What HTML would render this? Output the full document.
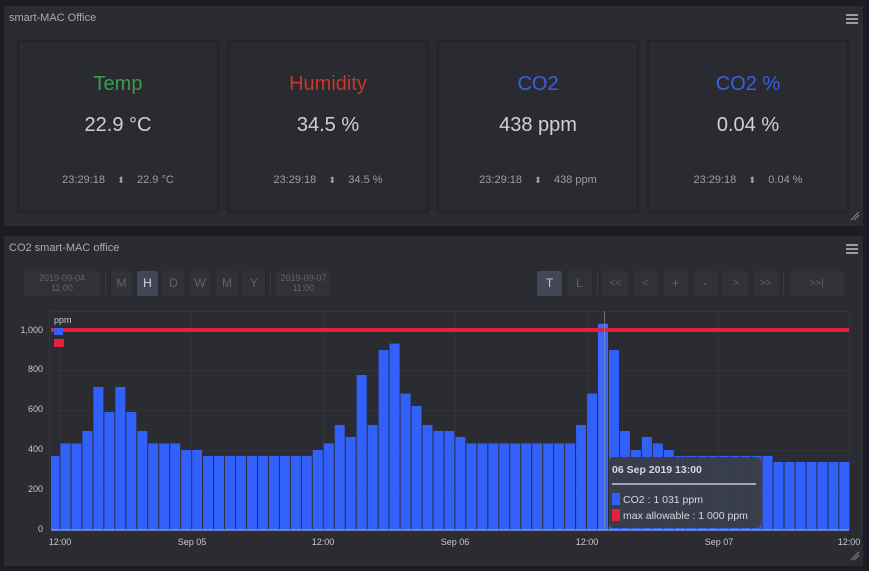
<!DOCTYPE html>
<html><head><meta charset="utf-8"><style>
body{margin:0;width:869px;height:571px;background:#1c1d24;font-family:"Liberation Sans",sans-serif;overflow:hidden;position:relative}
.panel{position:absolute;background:#2b2c31;left:4px;width:859px}
.ptitle{position:absolute;left:5px;top:6px;font-size:11px;color:#a9abb0}
.ham{position:absolute;right:5px;width:12px;height:10px;border-top:2px solid #9a9ca2;border-bottom:2px solid #9a9ca2;box-sizing:border-box}
.ham:after{content:"";position:absolute;left:0;right:0;top:2px;height:2px;background:#9a9ca2}
.card{position:absolute;top:41px;width:200px;height:171px;background:#2a2b30;box-shadow:0 0 2px #18191e;border:1px solid #222328;box-sizing:border-box;text-align:center}
.card .t{position:absolute;top:31px;width:100%;font-size:20px}
.card .v{position:absolute;top:72px;width:100%;font-size:20px;color:#d0d1d4}
.card .f{position:absolute;top:132px;width:100%;font-size:11px;color:#9c9ea3}
.card .f span{font-size:9px}
.btn{position:absolute;top:271px;height:25px;background:#303238;border-radius:2px;color:#62646b;font-size:12px;text-align:center;line-height:25px}
.sep{position:absolute;top:272px;width:1px;height:23px;background:#3a3c42}
.d{font-size:9px;line-height:10px;padding-top:2px;box-sizing:border-box}
</style></head><body>
<div class="panel" style="top:6px;height:220px">
 <div class="ptitle">smart-MAC Office</div>
 <div class="ham" style="top:8px"></div>
</div>
<div class="card" style="left:18px"><div class="t" style="color:#3d9b4a">Temp</div><div class="v">22.9 °C</div><div class="f">23:29:18 &nbsp;&nbsp; <span>⬍</span> &nbsp;&nbsp; 22.9 °C</div></div>
<div class="card" style="left:228px"><div class="t" style="color:#c8372c">Humidity</div><div class="v">34.5 %</div><div class="f">23:29:18 &nbsp;&nbsp; <span>⬍</span> &nbsp;&nbsp; 34.5 %</div></div>
<div class="card" style="left:438px"><div class="t" style="color:#3a5fe6">CO2</div><div class="v">438 ppm</div><div class="f">23:29:18 &nbsp;&nbsp; <span>⬍</span> &nbsp;&nbsp; 438 ppm</div></div>
<div class="card" style="left:648px"><div class="t" style="color:#3a5fe6">CO2 %</div><div class="v">0.04 %</div><div class="f">23:29:18 &nbsp;&nbsp; <span>⬍</span> &nbsp;&nbsp; 0.04 %</div></div>

<div class="panel" style="top:236px;height:330px">
 <div class="ptitle">CO2 smart-MAC office</div>
 <div class="ham" style="top:8px"></div>
</div>
<div class="btn d" style="left:24px;width:76px">2019-09-04<br>11:00</div>
<div class="sep" style="left:105px"></div>
<div class="btn" style="left:111px;width:21px">M</div>
<div class="btn" style="left:137px;width:21px;background:#424757;color:#d8d9dc">H</div>
<div class="btn" style="left:163px;width:21px">D</div>
<div class="btn" style="left:189px;width:22px">W</div>
<div class="btn" style="left:216px;width:22px">M</div>
<div class="btn" style="left:243px;width:22px">Y</div>
<div class="sep" style="left:270px"></div>
<div class="btn d" style="left:276px;width:55px">2019-09-07<br>11:00</div>
<div class="btn" style="left:537px;width:25px;background:#424757;color:#c8c9cc">T</div>
<div class="btn" style="left:567px;width:25px">L</div>
<div class="sep" style="left:597px"></div>
<div class="btn" style="left:603px;width:25px;font-size:10px">&lt;&lt;</div>
<div class="btn" style="left:633px;width:25px;font-size:10px">&lt;</div>
<div class="btn" style="left:663px;width:25px">+</div>
<div class="btn" style="left:693px;width:25px">-</div>
<div class="btn" style="left:723px;width:25px;font-size:10px">&gt;</div>
<div class="btn" style="left:753px;width:25px;font-size:10px">&gt;&gt;</div>
<div class="sep" style="left:783px"></div>
<div class="btn" style="left:789px;width:55px;font-size:10px">&gt;&gt;|</div>

<svg style="position:absolute;left:0;top:0" width="869" height="571" font-family="Liberation Sans, sans-serif">
<g stroke="#323439" stroke-width="1">
<line x1="49" y1="311.5" x2="849" y2="311.5"/>
<line x1="49" y1="370.5" x2="849" y2="370.5"/><line x1="49" y1="410.5" x2="849" y2="410.5"/>
<line x1="49" y1="450.5" x2="849" y2="450.5"/><line x1="49" y1="490.5" x2="849" y2="490.5"/>
<line x1="49.5" y1="311" x2="49.5" y2="530"/><line x1="191.5" y1="311" x2="191.5" y2="530"/>
<line x1="323.5" y1="311" x2="323.5" y2="530"/><line x1="455.5" y1="311" x2="455.5" y2="530"/>
<line x1="587.5" y1="311" x2="587.5" y2="530"/><line x1="718.5" y1="311" x2="718.5" y2="530"/>
<line x1="849.5" y1="311" x2="849.5" y2="530"/><line x1="60.5" y1="311" x2="60.5" y2="530"/>
</g>
<g fill="#3160fb">
<rect x="51" y="456" width="8.5" height="74"/>
<rect x="60.47" y="443.4" width="10" height="86.6"/><rect x="71.44" y="443.4" width="10" height="86.6"/>
<rect x="82.41" y="431" width="10" height="99"/><rect x="93.38" y="387" width="10" height="143"/>
<rect x="104.35" y="412" width="10" height="118"/><rect x="115.32" y="387" width="10" height="143"/>
<rect x="126.29" y="412" width="10" height="118"/><rect x="137.26" y="431" width="10" height="99"/>
<rect x="148.23" y="443.4" width="10" height="86.6"/><rect x="159.2" y="443.4" width="10" height="86.6"/>
<rect x="170.17" y="443.4" width="10" height="86.6"/><rect x="181.14" y="450" width="10" height="80"/>
<rect x="192.11" y="450" width="10" height="80"/>
<rect x="203.08" y="456" width="10" height="74"/><rect x="214.05" y="456" width="10" height="74"/>
<rect x="225.02" y="456" width="10" height="74"/><rect x="235.99" y="456" width="10" height="74"/>
<rect x="246.96" y="456" width="10" height="74"/><rect x="257.93" y="456" width="10" height="74"/>
<rect x="268.9" y="456" width="10" height="74"/><rect x="279.87" y="456" width="10" height="74"/>
<rect x="290.84" y="456" width="10" height="74"/><rect x="301.81" y="456" width="10" height="74"/>
<rect x="312.78" y="450" width="10" height="80"/><rect x="323.75" y="443.4" width="10" height="86.6"/>
<rect x="334.72" y="425" width="10" height="105"/><rect x="345.69" y="437" width="10" height="93"/>
<rect x="356.66" y="375" width="10" height="155"/><rect x="367.63" y="425" width="10" height="105"/>
<rect x="378.6" y="350" width="10" height="180"/><rect x="389.57" y="343.6" width="10" height="186.4"/>
<rect x="400.54" y="393.6" width="10" height="136.4"/><rect x="411.51" y="406" width="10" height="124"/>
<rect x="422.48" y="425" width="10" height="105"/><rect x="433.45" y="431" width="10" height="99"/>
<rect x="444.42" y="431" width="10" height="99"/><rect x="455.39" y="437" width="10" height="93"/>
<rect x="466.36" y="443.4" width="10" height="86.6"/><rect x="477.33" y="443.4" width="10" height="86.6"/>
<rect x="488.3" y="443.4" width="10" height="86.6"/><rect x="499.27" y="443.4" width="10" height="86.6"/>
<rect x="510.24" y="443.4" width="10" height="86.6"/><rect x="521.21" y="443.4" width="10" height="86.6"/>
<rect x="532.18" y="443.4" width="10" height="86.6"/><rect x="543.15" y="443.4" width="10" height="86.6"/>
<rect x="554.12" y="443.4" width="10" height="86.6"/><rect x="565.09" y="443.4" width="10" height="86.6"/>
<rect x="576.06" y="425" width="10" height="105"/><rect x="587.03" y="393.6" width="10" height="136.4"/>
<rect x="598" y="323.8" width="10" height="206.2" fill="#3a68ff"/><rect x="608.97" y="350" width="10" height="180"/>
<rect x="619.94" y="431" width="10" height="99"/><rect x="630.91" y="450" width="10" height="80"/>
<rect x="641.88" y="437" width="10" height="93"/><rect x="652.85" y="443.4" width="10" height="86.6"/>
<rect x="663.82" y="450" width="10" height="80"/>
<rect x="674.79" y="456" width="10" height="74"/><rect x="685.76" y="456" width="10" height="74"/>
<rect x="696.73" y="456" width="10" height="74"/><rect x="707.7" y="456" width="10" height="74"/>
<rect x="718.67" y="456" width="10" height="74"/><rect x="729.64" y="456" width="10" height="74"/>
<rect x="740.61" y="456" width="10" height="74"/><rect x="751.58" y="456" width="10" height="74"/>
<rect x="762.55" y="456" width="10" height="74"/>
<rect x="773.52" y="462" width="10" height="68"/><rect x="784.49" y="462" width="10" height="68"/>
<rect x="795.46" y="462" width="10" height="68"/><rect x="806.43" y="462" width="10" height="68"/>
<rect x="817.4" y="462" width="10" height="68"/><rect x="828.37" y="462" width="10" height="68"/>
<rect x="839.34" y="462" width="10" height="68"/>
</g>
<line x1="51" y1="530" x2="849" y2="530" stroke="#7f95e8" stroke-width="1.5"/>
<rect x="51" y="328" width="798" height="4" fill="#e5203f"/>
<line x1="604.5" y1="311" x2="604.5" y2="530" stroke="#8a8c92" stroke-width="1" opacity="0.7"/>
<rect x="54" y="328" width="9" height="7" fill="#3b5ef0"/><rect x="54" y="339" width="10" height="8" fill="#e5203f"/>
<text x="54" y="323" font-size="9" fill="#c8c9cc">ppm</text>
<g font-size="9" fill="#c8c9cc" text-anchor="end">
<text x="43" y="333">1,000</text><text x="43" y="372">800</text><text x="43" y="412">600</text>
<text x="43" y="452">400</text><text x="43" y="492">200</text><text x="43" y="532">0</text>
</g>
<g font-size="9" fill="#c8c9cc" text-anchor="middle">
<text x="60" y="545">12:00</text><text x="192" y="545">Sep 05</text><text x="323" y="545">12:00</text>
<text x="455" y="545">Sep 06</text><text x="587" y="545">12:00</text><text x="719" y="545">Sep 07</text>
<text x="849" y="545">12:00</text>
</g>
<rect x="609" y="457" width="152" height="71" rx="4" fill="#3a3d47" opacity="0.97"/>
<text x="612" y="473" font-size="10.5" font-weight="bold" fill="#d8d9dc">06 Sep 2019 13:00</text>
<line x1="612" y1="484" x2="756" y2="484" stroke="#e8e8ea" stroke-width="1.2"/>
<rect x="612" y="493" width="8" height="12" fill="#3160fb"/>
<text x="623" y="503" font-size="10.5" fill="#d8d9dc">CO2 : 1 031 ppm</text>
<rect x="612" y="509" width="8" height="12" fill="#e5203f"/>
<text x="623" y="519" font-size="10.5" fill="#d8d9dc">max allowable : 1 000 ppm</text>
<g stroke="#8a8c92" stroke-width="1">
<line x1="851" y1="220" x2="859" y2="212"/><line x1="854" y1="220" x2="859" y2="215"/>
<line x1="851" y1="560" x2="859" y2="552"/><line x1="854" y1="560" x2="859" y2="555"/>
</g>
</svg>
</body></html>
